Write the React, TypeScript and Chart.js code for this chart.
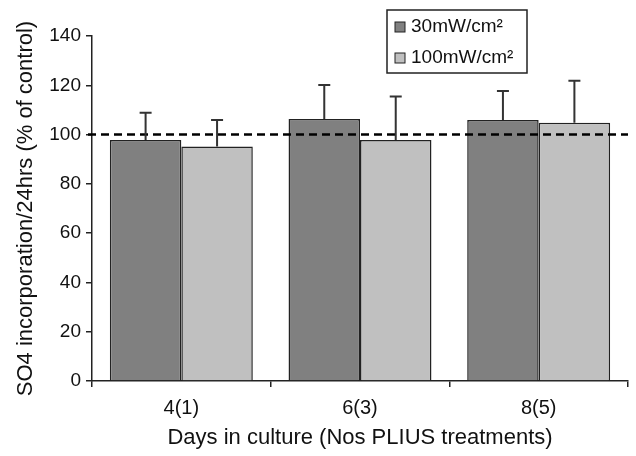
import React, { useEffect, useRef } from "react";
import { Chart, registerables } from "chart.js";

Chart.register(...registerables);

const categories = ["4(1)", "6(3)", "8(5)"];
const seriesNames = ["30mW/cm²", "100mW/cm²"];
const values30 = [97.8, 106.3, 105.9];
const errors30 = [11.1, 13.8, 11.8];
const values100 = [95.2, 97.8, 104.8];
const errors100 = [10.7, 17.6, 17.0];
const controlLevel = 100;
const yTicks = [0, 20, 40, 60, 80, 100, 120, 140];

const FONT = "Arial, 'Liberation Sans', sans-serif";
const colors = ["#808080", "#c0c0c0"];
const errorsBySeries = [errors30, errors100];

const errorBarPlugin = {
  id: "errorBars",
  afterDatasetsDraw(chart: any) {
    const { ctx, scales } = chart;
    const y = scales.y;
    ctx.save();
    ctx.strokeStyle = "#000";
    ctx.lineWidth = 2.4;
    ctx.setLineDash([8, 5]);
    const yc = y.getPixelForValue(controlLevel);
    ctx.beginPath();
    ctx.moveTo(chart.chartArea.left - 4, yc);
    ctx.lineTo(chart.chartArea.right, yc);
    ctx.stroke();
    ctx.restore();

    ctx.save();
    ctx.strokeStyle = "#333";
    ctx.lineWidth = 2;
    chart.data.datasets.forEach((ds: any, di: number) => {
      const meta = chart.getDatasetMeta(di);
      meta.data.forEach((bar: any, i: number) => {
        const v = ds.data[i];
        const e = errorsBySeries[di][i];
        const top = y.getPixelForValue(v + e);
        const base = y.getPixelForValue(v);
        ctx.beginPath();
        ctx.moveTo(bar.x, base);
        ctx.lineTo(bar.x, top);
        ctx.moveTo(bar.x - 6, top);
        ctx.lineTo(bar.x + 6, top);
        ctx.stroke();
      });
    });
    ctx.restore();
  },
  afterDraw(chart: any) {
    const { ctx } = chart;
    ctx.save();
    ctx.strokeStyle = "#222";
    ctx.lineWidth = 1.5;
    ctx.strokeRect(387, 10, 140, 63);
    ctx.font = `19px ${FONT}`;
    ctx.textBaseline = "middle";
    ctx.textAlign = "left";
    const rows = [27, 58];
    seriesNames.forEach((name, i) => {
      ctx.fillStyle = colors[i];
      ctx.fillRect(395, rows[i] - 5, 10, 10);
      ctx.strokeStyle = "#222";
      ctx.lineWidth = 1;
      ctx.strokeRect(395, rows[i] - 5, 10, 10);
      ctx.fillStyle = "#111";
      ctx.fillText(name, 411, rows[i]);
    });
    ctx.restore();
  },
};

export default function App() {
  const ref = useRef<HTMLCanvasElement>(null);
  useEffect(() => {
    if (!ref.current) return;
    const chart = new Chart(ref.current, {
      type: "bar",
      data: {
        labels: categories,
        datasets: [
          {
            label: seriesNames[0],
            data: values30,
            backgroundColor: colors[0],
            borderColor: "#222",
            borderWidth: 1.5,
            categoryPercentage: 0.8,
            barPercentage: 1,
          },
          {
            label: seriesNames[1],
            data: values100,
            backgroundColor: colors[1],
            borderColor: "#222",
            borderWidth: 1.5,
            categoryPercentage: 0.8,
            barPercentage: 1,
          },
        ],
      },
      options: {
        responsive: false,
        animation: false,
        devicePixelRatio: 1,
        layout: { padding: { top: 36, right: 8, left: 0, bottom: 0 } },
        plugins: {
          legend: { display: false },
          tooltip: { enabled: false },
        },
        scales: {
          x: {
            type: "category",
            grid: {
              offset: true,
              drawOnChartArea: false,
              drawTicks: true,
              tickLength: 6,
              color: "#222",
              lineWidth: 1.5,
            },
            border: { display: true, color: "#222", width: 1.5 },
            ticks: {
              color: "#111",
              padding: 9,
              font: { family: FONT, size: 20 },
            },
            title: {
              display: true,
              text: "Days in culture (Nos PLIUS treatments)",
              color: "#111",
              font: { family: FONT, size: 22 },
              padding: { top: 0, bottom: 5 },
            },
            afterFit: (s: any) => {
              s.height = 75;
            },
          },
          y: {
            min: 0,
            max: 140,
            afterBuildTicks: (s: any) => {
              s.ticks = yTicks.map((v) => ({ value: v }));
            },
            grid: {
              drawOnChartArea: false,
              drawTicks: true,
              tickLength: 6,
              color: "#222",
              lineWidth: 1.5,
            },
            border: { display: true, color: "#222", width: 1.5 },
            ticks: {
              color: "#111",
              padding: 5,
              font: { family: FONT, size: 19 },
            },
            title: {
              display: true,
              text: "SO4 incorporation/24hrs (% of control)",
              color: "#111",
              font: { family: FONT, size: 22 },
              padding: { top: 13, bottom: 0 },
            },
            afterFit: (s: any) => {
              s.width = 92;
            },
          },
        },
      },
      plugins: [errorBarPlugin],
    });
    return () => chart.destroy();
  }, []);
  return (
    <div style={{ position: "fixed", left: 0, top: 0, width: 636, height: 456, background: "#fff" }}>
      <canvas ref={ref} width={636} height={456} style={{ display: "block", width: 636, height: 456 }} />
    </div>
  );
}
